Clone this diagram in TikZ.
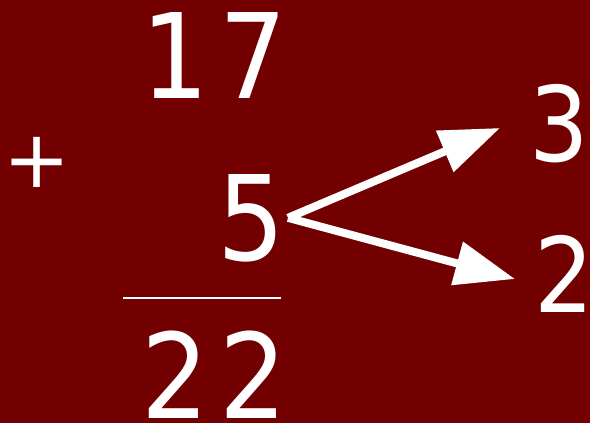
\documentclass[tikz,border=0pt]{standalone}
\usepackage{fontspec}
\setmainfont{DejaVu Sans}
\newfontfamily\digitfont[FakeStretch=0.9]{DejaVu Sans}
\usetikzlibrary{arrows.meta}
\definecolor{sumred}{RGB}{114,0,0}

\begin{document}
\begin{tikzpicture}[x=1pt, y=-1pt,
  digit/.style={inner sep=0pt, text=white, font=\digitfont\fontsize{118}{118}\selectfont\addfontfeature{LetterSpace=9}},
  part/.style={inner sep=0pt, text=white, font=\digitfont\fontsize{104}{104}\selectfont},
  sign/.style={inner sep=0pt, text=white, font=\fontsize{80}{80}\selectfont},
  splitarr/.style={-{Triangle[length=60pt,width=43pt]}, line width=8pt, draw=white}
]
% Background
\fill[sumred] (0,0) rectangle (590,423);
\useasboundingbox (0,0) rectangle (590,423);

% Column sum
\node[digit, anchor=base east] (top)  at (287,98)  {17};
\node[digit, anchor=base east] (five) at (285,260) {5};
\node[sign] (plus) at (37,162) {+};
\draw[white, line width=2.5pt] (123,298) -- (281,298);
\node[digit, anchor=base east] (sum)  at (287,418) {22};

% Splitting the 5
\node[part, anchor=base east] (three) at (589,161) {3};
\node[part, anchor=base east] (two)   at (594,312) {2};
\coordinate (upTip)   at (500,128);
\coordinate (downTip) at (515,279);

% Arrows
\draw[splitarr] ([xshift=3pt]five.east) -- (upTip);
\draw[splitarr] ([xshift=3pt]five.east) -- (downTip);
\end{tikzpicture}
\end{document}
